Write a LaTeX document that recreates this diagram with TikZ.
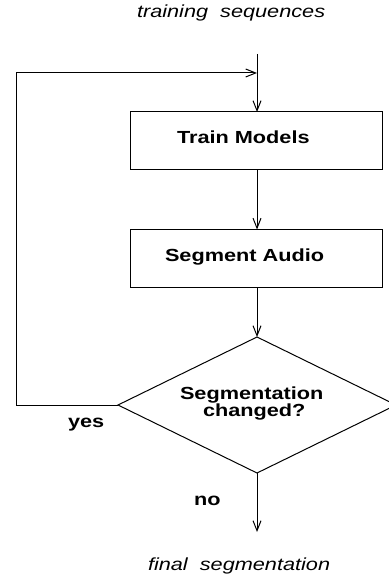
\documentclass[tikz,border=0pt]{standalone}
\usepackage{fontspec}
\setmainfont{Liberation Sans}[FakeStretch=1.24]
\usetikzlibrary{arrows.meta}
\begin{document}
\begin{tikzpicture}[x=1pt,y=-1pt,
  line width=1pt,
  every node/.style={inner sep=0pt, outer sep=0pt},
  proc/.style={draw, rectangle, minimum width=252pt, minimum height=58pt},
  lbl/.style={anchor=base west, font=\fontsize{17.5}{17}\selectfont\bfseries},
  itl/.style={anchor=base west, font=\fontsize{17.5}{17}\selectfont\itshape},
  arr/.style={-{Straight Barb[length=10pt,width=8pt,line width=1pt]}}
]
\useasboundingbox (0,0) rectangle (388,577);
% boxes
\node[proc] (train) at (256,141) {};
\node[proc] (seg) at (256,258.5) {};
\path[draw] (257,337) coordinate (dtop) -- (396,405) coordinate (dright)
  -- (257,473) coordinate (dbot) -- (118,405) coordinate (dleft) -- cycle;
% texts
\node[lbl] (ttrain) at (177,144) {Train Models};
\node[lbl] (tseg) at (165,261) {Segment Audio};
\node[lbl] (tq1) at (180,399) {Segmentation};
\node[lbl] (tq2) at (203,416) {changed?};
\node[lbl] (tyes) at (68,427) {yes};
\node[lbl] (tno) at (194,505) {no};
\node[itl] (tin) at (137,18) {training\ \ sequences};
\node[itl] (tout) at (148,570) {final\ \ segmentation};
% connectors
\coordinate (start) at (257,54);
\coordinate (join) at (257,73);
\coordinate (corner1) at (16,405);
\coordinate (corner2) at (16,73);
\coordinate (finish) at (257,532);
\draw[arr] (start) -- (train.north -| start);
\draw[arr] (dleft) -- (corner1) -- (corner2) -- (join);
\draw[arr] (train.south -| start) -- (seg.north -| start);
\draw[arr] (seg.south -| start) -- (dtop);
\draw[arr] (dbot) -- (finish);
\end{tikzpicture}
\end{document}
